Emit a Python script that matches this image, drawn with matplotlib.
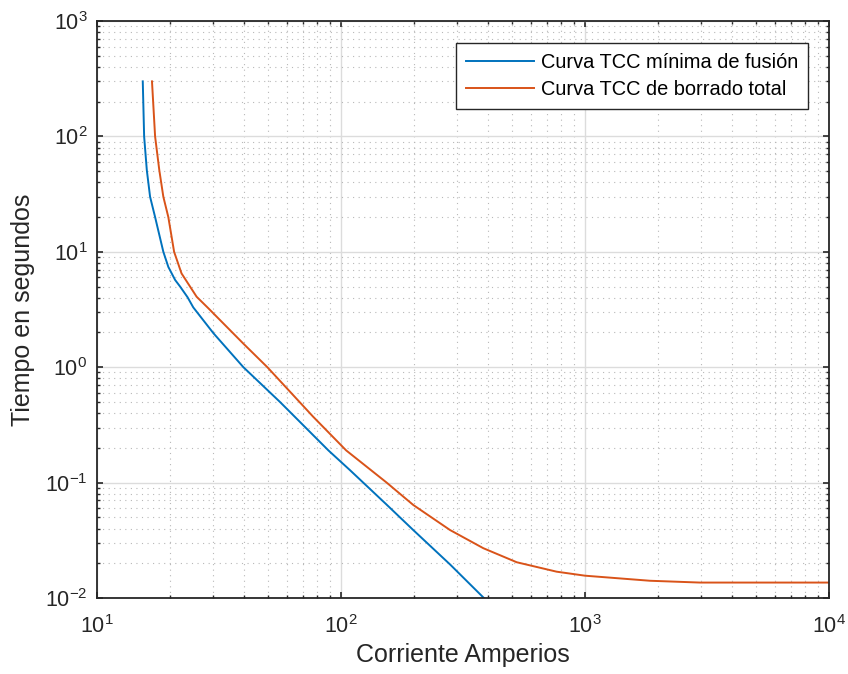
import matplotlib
matplotlib.use("Agg")
import matplotlib.pyplot as plt
from matplotlib.ticker import LogLocator, NullFormatter

plt.rcParams["font.family"] = ["Liberation Sans", "DejaVu Sans"]

# Curva TCC minima de fusion
min_amps = [15.4, 15.6, 16.0, 16.5, 17.3, 18.7, 19.6, 20.9, 21.9, 23.5, 24.8,
            30.0, 39.8, 56.2, 88.8, 108.9, 153.8, 197.7, 280.0, 385.0]
min_secs = [300, 100, 51, 30, 20, 10, 7.4, 5.7, 5.0, 4.04, 3.3,
            1.97, 1.0, 0.50, 0.19, 0.128, 0.0644, 0.0388, 0.0195, 0.0100]

# Curva TCC de borrado total
tot_amps = [16.8, 17.3, 18.0, 18.7, 19.6, 20.7, 22.2, 25.6, 28.6, 39.8, 49.9,
            76.9, 105.0, 153.8, 197.7, 279.8, 383.0, 525.0, 765.0, 1000.0,
            1845.0, 2957.0, 5000.0, 10000.0]
tot_secs = [300, 100, 51, 30, 20, 10, 6.5, 4.08, 3.24, 1.6, 1.0,
            0.372, 0.19, 0.10, 0.064, 0.0388, 0.027, 0.0204, 0.0169, 0.0156,
            0.0141, 0.0136, 0.0136, 0.0136]

fig = plt.figure(figsize=(8.48, 6.74), dpi=100)
ax = fig.add_axes([0.1144, 0.1128, 0.8632, 0.856])

ax.plot(min_amps, min_secs, color="#0072BD", lw=1.4, label="Curva TCC mínima de fusión")
ax.plot(tot_amps, tot_secs, color="#D95319", lw=1.4, label="Curva TCC de borrado total")

ax.set_xscale("log")
ax.set_yscale("log")
ax.set_xlim(10, 1e4)
ax.set_ylim(1e-2, 1e3)

ax.xaxis.set_major_locator(LogLocator(base=10, numticks=10))
ax.yaxis.set_major_locator(LogLocator(base=10, numticks=10))
ax.xaxis.set_minor_locator(LogLocator(base=10, subs=range(2, 10), numticks=50))
ax.yaxis.set_minor_locator(LogLocator(base=10, subs=range(2, 10), numticks=50))
ax.xaxis.set_minor_formatter(NullFormatter())
ax.yaxis.set_minor_formatter(NullFormatter())

ax.grid(True, which="major", color="#dcdcdc", lw=1.0, ls="-")
ax.grid(True, which="minor", color="#b8b8b8", lw=0.8, ls=(0, (1, 4)))
ax.set_axisbelow(True)

ax.tick_params(which="both", direction="in", top=True, right=True,
               color="#262626", labelsize=15.5, labelcolor="#262626")
ax.tick_params(which="major", length=4, width=1.2)
ax.tick_params(which="minor", length=2.2, width=1.0)
ax.tick_params(axis="x", pad=12)
ax.tick_params(axis="y", pad=7)
for s in ax.spines.values():
    s.set_color("#262626")
    s.set_linewidth(1.3)

ax.set_xlabel("Corriente Amperios", fontsize=18, color="#262626", labelpad=4)
ax.set_ylabel("Tiempo en segundos", fontsize=18, color="#262626", labelpad=7)

leg = ax.legend(loc="upper right", bbox_to_anchor=(0.971, 0.962), borderaxespad=0,
                fontsize=14.4, frameon=True, fancybox=False, framealpha=1,
                edgecolor="#262626", handlelength=3.4, handletextpad=0.35,
                borderpad=0.5, labelspacing=0.4)
leg.get_frame().set_linewidth(1.0)

fig.savefig("out.png", dpi=100)
